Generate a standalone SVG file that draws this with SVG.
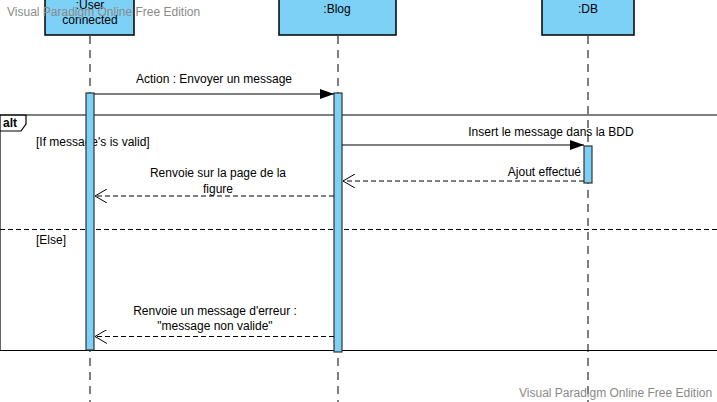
<svg xmlns="http://www.w3.org/2000/svg" width="717" height="402" viewBox="0 0 717 402">
<style>
text{font-family:"Liberation Sans",Arial,sans-serif;font-size:12px;fill:#000}
.head{fill:#7dd1f6;stroke:#000;stroke-width:1.5}
.act{fill:#7dd1f6;stroke:#333;stroke-width:1.2}
.life{stroke:#808080;stroke-width:2;stroke-dasharray:8,6;fill:none}
.msg{stroke:#000;stroke-width:1;fill:none}
.ret{stroke:#000;stroke-width:1;fill:none;stroke-dasharray:5,3}
.wm{fill:#8a8a8a;font-size:12px}
.frame{fill:none;stroke:#000;stroke-width:1.2}
</style>
<defs>
<marker id="filled" markerWidth="14" markerHeight="10" refX="14" refY="5" orient="auto" markerUnits="userSpaceOnUse">
<path d="M0,0 L14,5 L0,10 Z" fill="#000"/>
</marker>
<marker id="open" markerWidth="14" markerHeight="14" refX="12" refY="7" orient="auto" markerUnits="userSpaceOnUse">
<path d="M0,0 L12,7 L0,14" fill="none" stroke="#000" stroke-width="1"/>
</marker>
</defs>
<g id="lifelines">
<line class="life" x1="90" y1="36" x2="90" y2="402"/>
<line class="life" x1="338" y1="36" x2="338" y2="402"/>
<line class="life" x1="588" y1="36" x2="588" y2="402"/>
</g>
<g id="alt-frame">
<path class="frame" d="M0,115 H717 M0,350.5 H717 M0,115 V350.5"/>
<path class="frame" d="M0,115 H26 V124 L21,131 H0"/>
<text x="3" y="127" style="font-weight:bold">alt</text>
<text x="36" y="146">[If message's is valid]</text>
<line x1="0" y1="229.5" x2="717" y2="229.5" stroke="#000" stroke-width="1" stroke-dasharray="5,3"/>
<text x="36" y="244">[Else]</text>
</g>
<g id="user">
<rect class="head" x="45" y="-6" width="89" height="41"/>
<text x="90" y="9" text-anchor="middle">:User</text>
<text x="90" y="24" text-anchor="middle">connected</text>
<rect class="act" x="86" y="93" width="8" height="257"/>
</g>
<g id="blog">
<rect class="head" x="279" y="-6" width="117" height="41"/>
<text x="337" y="13" text-anchor="middle">:Blog</text>
<rect class="act" x="334" y="93" width="8" height="259"/>
</g>
<g id="db">
<rect class="head" x="542" y="-6" width="92" height="41"/>
<text x="588" y="13" text-anchor="middle">:DB</text>
<rect class="act" x="584" y="146" width="8" height="37"/>
</g>
<g id="connectors">
<line class="msg" x1="94" y1="94" x2="334" y2="94" marker-end="url(#filled)"/>
<text x="214" y="83" text-anchor="middle">Action : Envoyer un message</text>
<line class="msg" x1="342" y1="145" x2="584" y2="145" marker-end="url(#filled)"/>
<text x="551" y="136" text-anchor="middle">Insert le message dans la BDD</text>
<line class="ret" x1="584" y1="181" x2="343" y2="181" marker-end="url(#open)"/>
<text x="581" y="176" text-anchor="end">Ajout effectué</text>
<line class="ret" x1="334" y1="196" x2="95" y2="196" marker-end="url(#open)"/>
<text x="218" y="177" text-anchor="middle">Renvoie sur la page de la</text>
<text x="218" y="193" text-anchor="middle">figure</text>
<line class="ret" x1="334" y1="336.5" x2="95" y2="336.5" marker-end="url(#open)"/>
<text x="215" y="315" text-anchor="middle">Renvoie un message d'erreur :</text>
<text x="215" y="330" text-anchor="middle">"message non valide"</text>
</g>
<g id="watermarks">
<text class="wm" x="7" y="16">Visual Paradigm Online Free Edition</text>
<text class="wm" x="519" y="397">Visual Paradigm Online Free Edition</text>
</g>
</svg>
